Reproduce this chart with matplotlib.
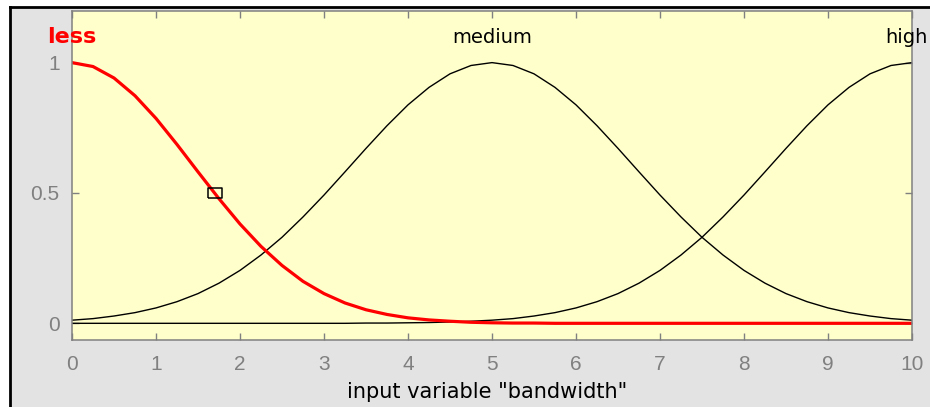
import numpy as np
import matplotlib
matplotlib.use('Agg')
import matplotlib.pyplot as plt
from matplotlib.patches import Rectangle
from matplotlib.lines import Line2D

plt.rcParams['font.family'] = ['Liberation Sans', 'DejaVu Sans']

x_vals = np.arange(0, 10.001, 0.25)

less_vals = [1.000, 0.985, 0.941, 0.873, 0.786, 0.686, 0.581, 0.478, 0.381,
             0.295, 0.222, 0.161, 0.114, 0.078, 0.052, 0.034, 0.021, 0.013,
             0.008, 0.004, 0.002, 0.001, 0.001, 0.000, 0.000, 0.000, 0.000,
             0.000, 0.000, 0.000, 0.000, 0.000, 0.000, 0.000, 0.000, 0.000,
             0.000, 0.000, 0.000, 0.000, 0.000]

medium_vals = [0.012, 0.018, 0.028, 0.041, 0.059, 0.083, 0.114, 0.154, 0.203,
               0.262, 0.330, 0.408, 0.492, 0.581, 0.671, 0.758, 0.838, 0.905,
               0.957, 0.989, 1.000, 0.989, 0.957, 0.905, 0.838, 0.758, 0.671,
               0.581, 0.492, 0.408, 0.330, 0.262, 0.203, 0.154, 0.114, 0.083,
               0.059, 0.041, 0.028, 0.018, 0.012]

high_vals = [0.000, 0.000, 0.000, 0.000, 0.000, 0.000, 0.000, 0.000, 0.000,
             0.000, 0.000, 0.000, 0.000, 0.000, 0.001, 0.001, 0.002, 0.003,
             0.005, 0.008, 0.012, 0.018, 0.028, 0.041, 0.059, 0.083, 0.114,
             0.154, 0.203, 0.262, 0.330, 0.408, 0.492, 0.581, 0.671, 0.758,
             0.838, 0.905, 0.957, 0.989, 1.000]

mf_names = ['less', 'medium', 'high']
mf_centers = [0, 5, 10]
marker_x, marker_y = 1.7, 0.5
x_ticks = [0, 1, 2, 3, 4, 5, 6, 7, 8, 9, 10]
y_ticks = [0, 0.5, 1]

fig = plt.figure(figsize=(9.3, 4.07), dpi=100, facecolor='white')

# gray panel with black top/left border
W, H = 930, 407
fig.patches.append(Rectangle((10 / W, 0), 1, 1 - 8 / H, transform=fig.transFigure,
                             facecolor='#e3e3e3', edgecolor='none', zorder=-5))
fig.lines.append(Line2D([9.5 / W, 1], [1 - 7.3 / H, 1 - 7.3 / H], transform=fig.transFigure,
                        color='black', lw=2, zorder=-4))
fig.lines.append(Line2D([9.5 / W, 9.5 / W], [0, 1 - 7.3 / H], transform=fig.transFigure,
                        color='black', lw=2, zorder=-4))

ax = fig.add_axes([72 / W, 67 / H, 840 / W, 329 / H])
ax.set_facecolor('#ffffcc')

ax.plot(x_vals, medium_vals, color='black', lw=1.0)
ax.plot(x_vals, high_vals, color='black', lw=1.0)
ax.plot(x_vals, less_vals, color='red', lw=2.3)

rect_marker = [(-1, -0.78), (1, -0.78), (1, 0.78), (-1, 0.78), (-1, -0.78)]
ax.plot([marker_x], [marker_y], marker=rect_marker, ms=10, mfc='none',
        mec='black', mew=1.1, ls='none')

ax.set_xlim(0, 10)
ax.set_ylim(-0.064, 1.198)
ax.set_xticks(x_ticks)
ax.set_yticks(y_ticks)
ax.set_yticklabels(['0', '0.5', '1'])

for sp in ax.spines.values():
    sp.set_color('#808080')
    sp.set_linewidth(1.1)
ax.tick_params(direction='in', length=5, width=1, color='#808080',
               labelcolor='#808080', labelsize=15, top=True, right=True)
ax.tick_params(axis='x', pad=11)
ax.tick_params(axis='y', pad=9)

name_font = ['DejaVu Sans']
for name, c in zip(mf_names, mf_centers):
    if name == 'less':
        ax.text(c, 1.075, name, color='red', fontsize=16, fontweight='bold',
                family=name_font, ha='center', va='baseline', clip_on=False)
    elif name == 'high':
        # keep the label inside the figure (it sits on the right edge)
        ax.text(c + 0.19, 1.075, name, color='black', fontsize=14,
                family=name_font, ha='right', va='baseline', clip_on=False)
    else:
        ax.text(c, 1.075, name, color='black', fontsize=14,
                family=name_font, ha='center', va='baseline', clip_on=False)

ax.set_xlabel('input variable "bandwidth"', fontsize=15, color='black',
              family=name_font, va='baseline')
ax.xaxis.set_label_coords(0.4946, -0.1754)

fig.savefig('out.png', dpi=100, facecolor=fig.get_facecolor())
